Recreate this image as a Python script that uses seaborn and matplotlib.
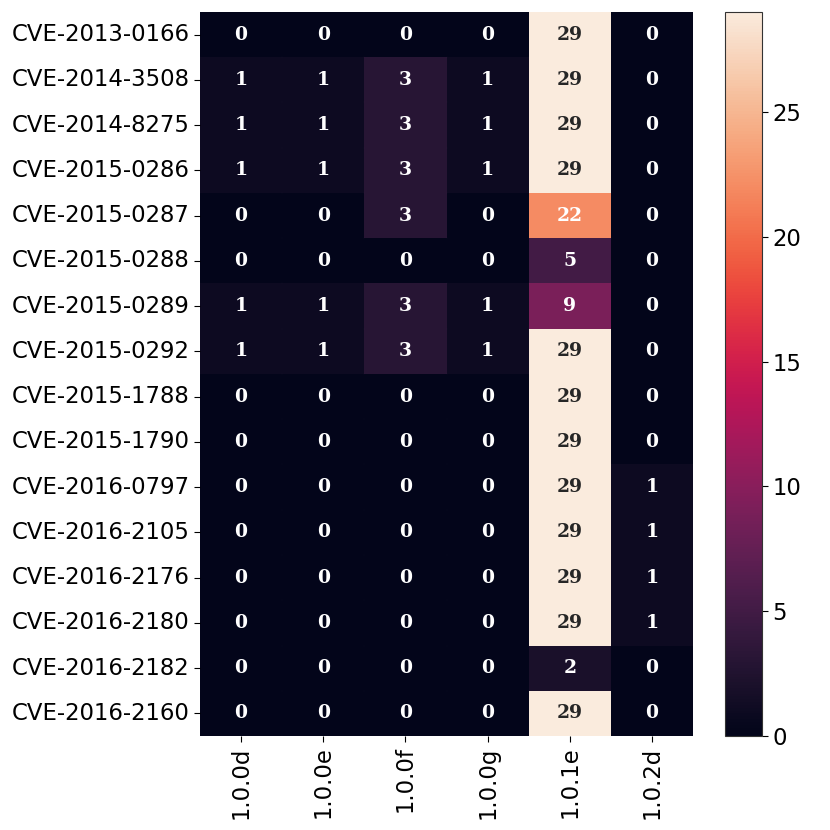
import matplotlib
matplotlib.use("Agg")
import matplotlib.pyplot as plt
import seaborn as sns
import pandas as pd
import numpy as np

cves = ["CVE-2013-0166", "CVE-2014-3508", "CVE-2014-8275", "CVE-2015-0286",
        "CVE-2015-0287", "CVE-2015-0288", "CVE-2015-0289", "CVE-2015-0292",
        "CVE-2015-1788", "CVE-2015-1790", "CVE-2016-0797", "CVE-2016-2105",
        "CVE-2016-2176", "CVE-2016-2180", "CVE-2016-2182", "CVE-2016-2160"]
versions = ["1.0.0d", "1.0.0e", "1.0.0f", "1.0.0g", "1.0.1e", "1.0.2d"]

v_100d = [0, 1, 1, 1, 0, 0, 1, 1, 0, 0, 0, 0, 0, 0, 0, 0]
v_100e = [0, 1, 1, 1, 0, 0, 1, 1, 0, 0, 0, 0, 0, 0, 0, 0]
v_100f = [0, 3, 3, 3, 3, 0, 3, 3, 0, 0, 0, 0, 0, 0, 0, 0]
v_100g = [0, 1, 1, 1, 0, 0, 1, 1, 0, 0, 0, 0, 0, 0, 0, 0]
v_101e = [29, 29, 29, 29, 22, 5, 9, 29, 29, 29, 29, 29, 29, 29, 2, 29]
v_102d = [0, 0, 0, 0, 0, 0, 0, 0, 0, 0, 1, 1, 1, 1, 0, 0]

df = pd.DataFrame({"1.0.0d": v_100d, "1.0.0e": v_100e, "1.0.0f": v_100f,
                   "1.0.0g": v_100g, "1.0.1e": v_101e, "1.0.2d": v_102d},
                  index=cves)[versions]

fig = plt.figure(figsize=(8.3, 8.3), dpi=100)
W = H = 830.0
ax = fig.add_axes([200 / W, 1 - 736 / H, 493 / W, 724 / H])
cax = fig.add_axes([725 / W, 1 - 736 / H, 37 / W, 724 / H])

sns.heatmap(df, ax=ax, cbar_ax=cax, annot=True, fmt="d",
            linewidths=0.3, linecolor=(1, 1, 1, 0.025), antialiased=True,
            annot_kws={"family": "DejaVu Serif", "weight": "bold", "size": 13.5})

ax.tick_params(axis="y", labelsize=16.4, rotation=0, length=4)
ax.tick_params(axis="x", labelsize=16.4, rotation=90, length=4)
cax.tick_params(labelsize=16.4, length=4)
cb = ax.collections[0].colorbar
cb.outline.set_linewidth(0.8)
cb.outline.set_edgecolor("#333333")

fig.savefig("out.png", dpi=100)
